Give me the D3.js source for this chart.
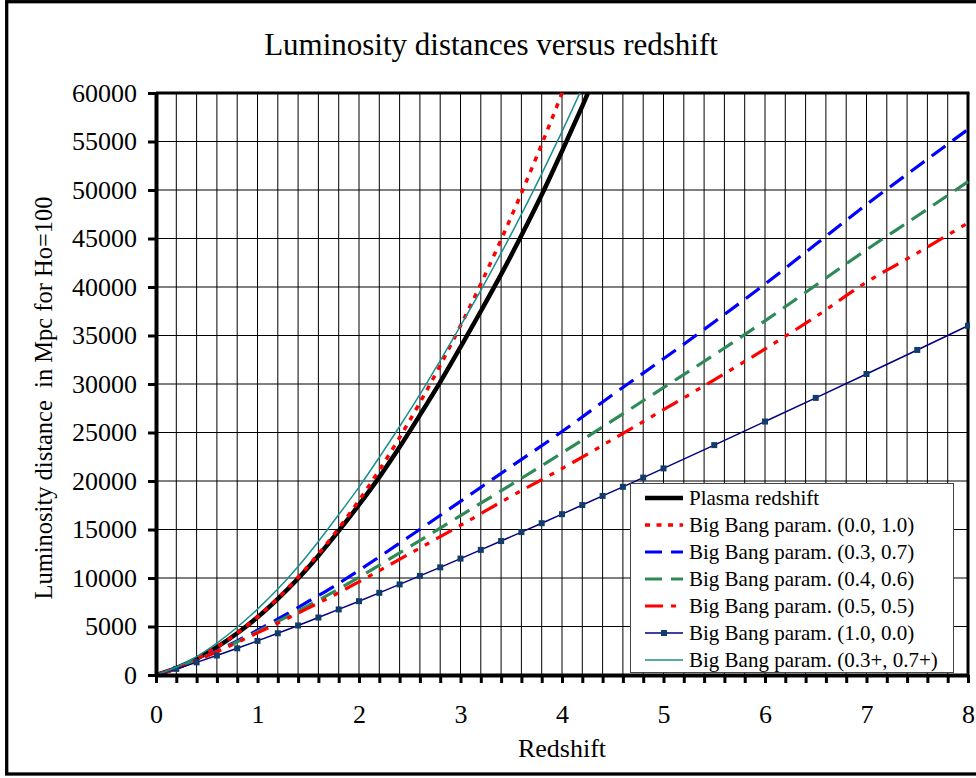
<!DOCTYPE html>
<html><head><meta charset="utf-8">
<script src="https://cdn.jsdelivr.net/npm/d3@7"></script>
<style>body{margin:0;background:#fff}svg{display:block;font-family:"Liberation Serif","Times New Roman",serif}</style>
</head><body><svg id="c" width="976" height="778"></svg>
<script>
// ---------- data ----------
const zSteep = [0,0.2,0.4,0.6,0.8,1.0,1.2,1.4,1.6,1.8,2.0,2.2,2.4,2.6,2.8,3.0,3.2,3.4,3.6,3.8,4.0,4.2,4.4];
const plasma = [0,720,1680,2870,4300,5950,7850,9950,12300,14850,17550,20400,23500,26800,30200,33800,37500,41300,45300,49500,54000,58650,63490];
const bb00_10 = [0,720,1680,2880,4320,6000,7920,10080,12480,15120,18000,21120,24480,28080,31920,36000,40320,44880,49680,54720,60000,65520,71280];
const bb03p_07p = [0,805,1900,3290,4920,6790,8860,11190,13770,16530,19370,22440,25620,28920,32420,36000,39660,43490,47490,51670,56020,60540,65240];

const zDash = [0,0.2,0.4,0.6,0.8,1.0,1.25,1.5,1.75,2.0,2.5,3.0,3.5,4.0,4.5,5.0,5.5,6.0,6.5,7.0,7.5,8.0];
const bb03_07 = [0,690,1540,2480,3520,4620,6060,7580,9120,10800,14300,17900,21500,25100,28900,32600,36400,40300,44400,48500,52400,56250];
const bb04_06 = [0,687,1525,2430,3430,4460,5790,7160,8570,10070,13230,16430,19630,22890,26250,29630,33010,36510,40180,43840,47320,50860];
const bb05_05 = [0,683,1509,2393,3362,4343,5605,6900,8210,9610,12510,15430,18430,21280,24290,27350,30430,33610,36940,40500,43500,46600];

const zEdS = [0,0.2,0.4,0.6,0.8,1.0,1.2,1.4,1.6,1.8,2.0,2.2,2.4,2.6,2.8,3.0,3.2,3.4,3.6,3.8,4.0,4.2,4.4,4.6,4.8,5.0,5.5,6.0,6.5,7.0,7.5,8.0];
const bb10_00 = [0,630,1300,2010,2750,3515,4300,5105,5925,6760,7610,8470,9340,10220,11100,12000,12900,13810,14730,15650,16580,17520,18460,19400,20350,21300,23700,26130,28570,31030,33510,36000];

const yTicks = [0,5000,10000,15000,20000,25000,30000,35000,40000,45000,50000,55000,60000];
const xTickLabels = [0,1,2,3,4,5,6,7,8];
const legendLabels = ["Plasma redshift","Big Bang param. (0.0, 1.0)","Big Bang param. (0.3, 0.7)","Big Bang param. (0.4, 0.6)","Big Bang param. (0.5, 0.5)","Big Bang param. (1.0, 0.0)","Big Bang param. (0.3+, 0.7+)"];
const titleText = "Luminosity distances versus redshift";
const xTitle = "Redshift";
const yTitle = "Luminosity distance  in Mpc for Ho=100";

// ---------- layout ----------
const svg = d3.select("#c");
const L = 156, R = 968, T = 93, B = 675;
const x = d3.scaleLinear().domain([0,8]).range([L,R]);
const y = d3.scaleLinear().domain([0,60000]).range([B,T]);

// outer frame
svg.append("rect").attr("x",6.7).attr("y",1.7).attr("width",1000).attr("height",772.3)
  .attr("fill","#fff").attr("stroke","#000").attr("stroke-width",3.3);

// title
svg.append("text").attr("x",491).attr("y",55).attr("text-anchor","middle")
  .attr("font-size",31).text(titleText);

// grid
const gx = d3.range(1,40).map(i=>i*0.2);
svg.append("g").selectAll("line").data(gx).join("line")
  .attr("x1",d=>x(d)).attr("x2",d=>x(d)).attr("y1",T).attr("y2",B)
  .attr("stroke","#000").attr("stroke-width",1);
svg.append("g").selectAll("line").data(yTicks.slice(1,-1)).join("line")
  .attr("x1",L).attr("x2",R).attr("y1",d=>y(d)).attr("y2",d=>y(d))
  .attr("stroke","#000").attr("stroke-width",1);

// top/right frame of plot
svg.append("line").attr("x1",L).attr("x2",R+1.5).attr("y1",T).attr("y2",T).attr("stroke","#000").attr("stroke-width",3);
svg.append("line").attr("x1",R).attr("x2",R).attr("y1",T).attr("y2",B).attr("stroke","#000").attr("stroke-width",3);

// clip
svg.append("clipPath").attr("id","clip").append("rect").attr("x",L).attr("y",T).attr("width",R-L+2).attr("height",B-T);
const plot = svg.append("g").attr("clip-path","url(#clip)");

const mk = (zs, vs, curve) => d3.line().x((d,i)=>x(zs[i])).y(d=>y(d)).curve(curve||d3.curveMonotoneX)(vs);

const series = [
  {zs:zSteep, vs:plasma, color:"#000", w:4.5, dash:null},
  {zs:zSteep, vs:bb00_10, color:"#ff0000", w:3.5, dash:"5,6.5"},
  {zs:zDash, vs:bb03_07, color:"#0000ff", w:3.2, dash:"17,9"},
  {zs:zDash, vs:bb04_06, color:"#2e8b57", w:3.2, dash:"17,9"},
  {zs:zDash, vs:bb05_05, color:"#ff0000", w:3.2, dash:"18,8,5,8,5,8"},
  {zs:zEdS, vs:bb10_00, color:"#000080", w:1.5, dash:null, markers:true, linear:true},
  {zs:zSteep, vs:bb03p_07p, color:"#1a8f8f", w:1.5, dash:null}
];
series.forEach(s=>{
  plot.append("path").attr("d", mk(s.zs, s.vs, s.linear?d3.curveLinear:d3.curveMonotoneX))
    .attr("fill","none").attr("stroke",s.color).attr("stroke-width",s.w)
    .attr("stroke-dasharray",s.dash);
  if(s.markers){
    plot.append("g").selectAll("rect").data(s.vs).join("rect")
      .attr("x",(d,i)=>x(s.zs[i])-3).attr("y",d=>y(d)-3).attr("width",6).attr("height",6)
      .attr("fill","#123d6b");
  }
});

// axes
const xTicksAll = d3.range(0,41).map(i=>i*0.2);
const xAxis = d3.axisBottom(x).tickValues(xTicksAll).tickSize(8).tickSizeOuter(0).tickPadding(22)
  .tickFormat(d=>{const r=Math.round(d); return Math.abs(d-r)<1e-6 && xTickLabels.includes(r) ? r : "";});
const gxA = svg.append("g").attr("transform",`translate(0,${B})`).call(xAxis);
const yAxis = d3.axisLeft(y).tickValues(yTicks).tickSize(8).tickSizeOuter(0).tickPadding(11).tickFormat(d=>d);
const gyA = svg.append("g").attr("transform",`translate(${L},0)`).call(yAxis);
[gxA,gyA].forEach(g=>{
  g.select(".domain").attr("stroke","#000").attr("stroke-width",4);
  g.selectAll(".tick line").attr("stroke","#000").attr("stroke-width",3);
  g.selectAll(".tick text").attr("font-size",26).attr("fill","#000")
    .attr("font-family",'"Liberation Serif","Times New Roman",serif');
});

// axis titles
svg.append("text").attr("x",562).attr("y",757).attr("text-anchor","middle").attr("font-size",26).text(xTitle);
svg.append("text").attr("transform","translate(52,398) rotate(-90)").attr("text-anchor","middle")
  .attr("font-size",24.5).style("white-space","pre").text(yTitle);

// legend
const lg = svg.append("g");
lg.append("rect").attr("x",630.5).attr("y",483.5).attr("width",323).attr("height",189)
  .attr("fill","#fff").attr("stroke","#444").attr("stroke-width",1);
legendLabels.forEach((lab,i)=>{
  const s = series[i];
  const cy = 498 + i*27;
  lg.append("line").attr("x1",645).attr("x2",683).attr("y1",cy).attr("y2",cy)
    .attr("stroke",s.color).attr("stroke-width",s.w).attr("stroke-dasharray",s.dash);
  if(s.markers) lg.append("rect").attr("x",661).attr("y",cy-3).attr("width",6).attr("height",6).attr("fill","#123d6b");
  lg.append("text").attr("x",689).attr("y",cy+7).attr("font-size",21).text(lab);
});
</script></body></html>
